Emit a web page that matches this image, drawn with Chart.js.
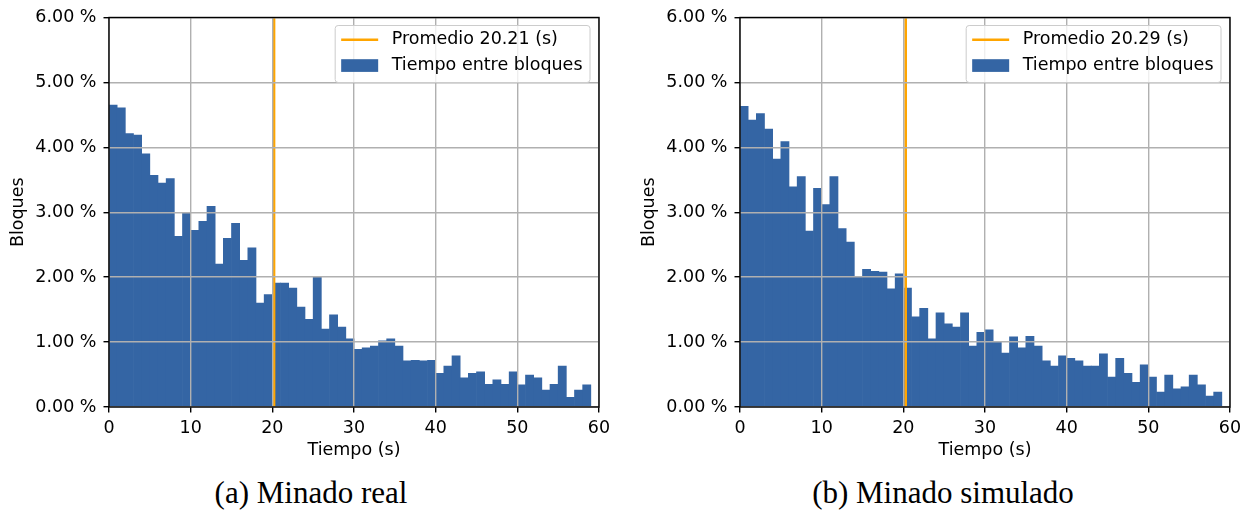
<!DOCTYPE html>
<html>
<head>
<meta charset="utf-8">
<script src="https://cdn.jsdelivr.net/npm/chart.js@4.4.1/dist/chart.umd.min.js"></script>
<style>
  body { margin: 0; background: #fff; width: 1252px; height: 510px; position: relative; overflow: hidden; }
  .panel { position: absolute; top: 0; }
  .caption { position: absolute; top: 475px; font-family: 'Liberation Serif', serif; font-size: 31px; line-height: 36px; white-space: nowrap; transform: translateX(-50%); color: #000; }
</style>
</head>
<body>
<div class="panel" style="left:0"><canvas id="chartReal" width="620" height="470"></canvas></div>
<div class="panel" style="left:631px"><canvas id="chartSim" width="620" height="470"></canvas></div>
<div class="caption" style="left:311px">(a) Minado real</div>
<div class="caption" style="left:943px">(b) Minado simulado</div>
<script>
// inicio de cada intervalo de 1 s
const bins = [0, 1, 2, 3, 4, 5, 6, 7, 8, 9, 10, 11, 12, 13, 14, 15, 16, 17, 18, 19,
  20, 21, 22, 23, 24, 25, 26, 27, 28, 29, 30, 31, 32, 33, 34, 35, 36, 37, 38, 39,
  40, 41, 42, 43, 44, 45, 46, 47, 48, 49, 50, 51, 52, 53, 54, 55, 56, 57, 58];

// % de bloques por intervalo
const realValues = [4.65, 4.61, 4.21, 4.19, 3.90, 3.57, 3.45, 3.52, 2.63, 2.99,
  2.72, 2.86, 3.09, 2.20, 2.60, 2.83, 2.26, 2.45, 1.60, 1.73,
  1.91, 1.91, 1.83, 1.54, 1.35, 2.00, 1.20, 1.42, 1.23, 1.05,
  0.89, 0.91, 0.94, 1.02, 1.05, 0.94, 0.71, 0.72, 0.71, 0.72,
  0.52, 0.63, 0.79, 0.45, 0.52, 0.54, 0.35, 0.42, 0.35, 0.54,
  0.34, 0.49, 0.45, 0.26, 0.35, 0.63, 0.15, 0.26, 0.34];
const simValues = [4.63, 4.42, 4.52, 4.28, 3.82, 4.09, 3.39, 3.55, 2.71, 3.37,
  3.12, 3.55, 2.75, 2.54, 2.00, 2.12, 2.09, 2.08, 1.82, 2.05,
  1.83, 1.39, 1.52, 1.05, 1.45, 1.28, 1.23, 1.45, 0.94, 1.15,
  1.19, 1.00, 0.83, 1.08, 0.91, 1.09, 0.94, 0.71, 0.63, 0.79,
  0.75, 0.71, 0.63, 0.63, 0.82, 0.46, 0.75, 0.52, 0.38, 0.65,
  0.46, 0.23, 0.49, 0.28, 0.31, 0.49, 0.34, 0.17, 0.23];

const realMean = 20.21;
const simMean = 20.29;

const xTicks = [0, 10, 20, 30, 40, 50, 60];
const yTicks = [0, 1, 2, 3, 4, 5, 6];

const FONT = 'DejaVu Sans';
Chart.defaults.color = '#000';
Chart.defaults.font.family = FONT;
Chart.defaults.font.size = 17.5;

// marco de los ejes (los 4 lados)
const frame = {
  id: 'frame',
  afterDraw(chart) {
    const {ctx, chartArea: a} = chart;
    ctx.save();
    ctx.strokeStyle = '#000';
    ctx.lineWidth = 1.4;
    ctx.strokeRect(a.left, a.top, a.right - a.left, a.bottom - a.top);
    ctx.restore();
  }
};

// leyenda dentro del area, arriba a la derecha
const insideLegend = {
  id: 'insideLegend',
  afterDraw(chart) {
    const {ctx, chartArea} = chart;
    const items = chart.data.datasets;
    ctx.save();
    ctx.font = '17.5px "' + FONT + '"';
    const textW = Math.max(...items.map(d => ctx.measureText(d.label).width));
    const handle = 37, pad = 6, gap = 13.5, rowH = 25.7;
    const w = pad + handle + gap + textW + 7.5;
    const h = 57;
    const x = chartArea.right - 9 - w;
    const y = chartArea.top + 8;
    ctx.beginPath();
    ctx.roundRect(x, y, w, h, 3);
    ctx.fillStyle = 'rgba(255,255,255,0.8)';
    ctx.fill();
    ctx.strokeStyle = '#cccccc';
    ctx.lineWidth = 1;
    ctx.stroke();
    items.forEach((d, i) => {
      const cy = y + 14.3 + i * rowH;
      if (d.type === 'line') {
        ctx.strokeStyle = d.borderColor;
        ctx.lineWidth = d.borderWidth;
        ctx.beginPath();
        ctx.moveTo(x + pad, cy);
        ctx.lineTo(x + pad + handle, cy);
        ctx.stroke();
      } else {
        ctx.fillStyle = d.backgroundColor;
        ctx.fillRect(x + pad, cy - 6.3, handle, 12.7);
      }
      ctx.fillStyle = '#000';
      ctx.textBaseline = 'middle';
      ctx.textAlign = 'left';
      ctx.fillText(d.label, x + pad + handle + gap, cy);
    });
    ctx.restore();
  }
};

function makeChart(id, values, mean) {
  const ctx = document.getElementById(id).getContext('2d');
  return new Chart(ctx, {
    type: 'bar',
    data: {
      datasets: [{
        type: 'line',
        label: 'Promedio ' + mean.toFixed(2) + ' (s)',
        data: [{x: mean, y: yTicks[0]}, {x: mean, y: yTicks[yTicks.length - 1]}],
        borderColor: '#ffa500',
        borderWidth: 2.6,
        pointRadius: 0,
        fill: false
      }, {
        type: 'bar',
        label: 'Tiempo entre bloques',
        data: bins.map((b, i) => ({x: b + 0.5, y: values[i]})),
        backgroundColor: '#3465a4',
        borderWidth: 0,
        barPercentage: 1.0,
        categoryPercentage: 1.0
      }]
    },
    options: {
      responsive: false,
      animation: false,
      layout: { padding: { left: 0, top: 17, right: 21, bottom: 0 } },
      plugins: {
        legend: { display: false },
        tooltip: { enabled: false }
      },
      scales: {
        x: {
          type: 'linear',
          min: xTicks[0],
          max: xTicks[xTicks.length - 1],
          offset: false,
          afterFit: s => { s.height = 63; },
          afterBuildTicks: s => { s.ticks = xTicks.map(v => ({value: v})); },
          grid: { offset: false, color: '#b0b0b0', lineWidth: 1.4, z: 1,
                  tickColor: '#000', tickWidth: 1.4, tickLength: 5.5 },
          border: { display: false },
          ticks: { padding: 5, maxRotation: 0 },
          title: { display: true, text: 'Tiempo (s)', padding: { top: 0, bottom: 9 } }
        },
        y: {
          min: yTicks[0],
          max: yTicks[yTicks.length - 1],
          afterFit: s => { s.width = 109; },
          afterBuildTicks: s => { s.ticks = yTicks.map(v => ({value: v})); },
          grid: { color: '#b0b0b0', lineWidth: 1.4, z: 1,
                  tickColor: '#000', tickWidth: 1.4, tickLength: 5.5 },
          border: { display: false },
          ticks: { padding: 7, callback: v => v.toFixed(2) + ' %' },
          title: { display: true, text: 'Bloques', padding: { top: 8, bottom: 0 } }
        }
      }
    },
    plugins: [frame, insideLegend]
  });
}

makeChart('chartReal', realValues, realMean);
makeChart('chartSim', simValues, simMean);
</script>
</body>
</html>
